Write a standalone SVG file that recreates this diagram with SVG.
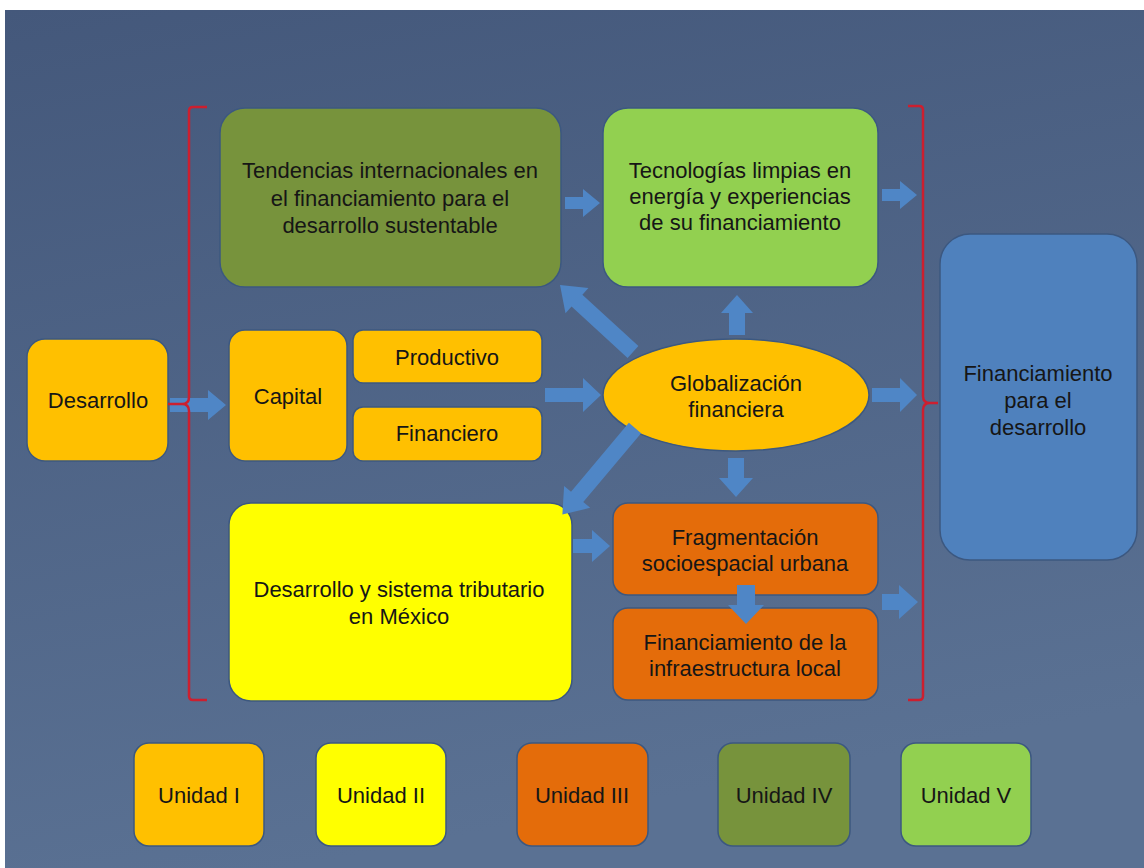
<svg xmlns="http://www.w3.org/2000/svg" width="1144" height="868" viewBox="0 0 1144 868">
  <defs>
    <linearGradient id="bg" x1="0" y1="0" x2="0.25" y2="1">
      <stop offset="0" stop-color="#44587b"/>
      <stop offset="1" stop-color="#5a7193"/>
    </linearGradient>
    <style>
      .t{font-family:"Liberation Sans",Arial,sans-serif;font-size:22px;fill:#161616;text-anchor:middle}
      .bx{stroke:#3c5880;stroke-width:1.5}
      .o1{fill:#FFC000}
      .y{fill:#FFFF00}
      .o2{fill:#E46C0A}
      .ol{fill:#77933C}
      .lg{fill:#92D050}
      .bl{fill:#4F81BD}
      .arr{fill:#4F86C6}
      .br{fill:none;stroke:#CC1F2F;stroke-width:2.5}
    </style>
  </defs>
  <rect x="0" y="0" width="1144" height="868" fill="#ffffff"/>
  <rect x="5" y="10" width="1139" height="858" fill="url(#bg)"/>

  <g id="desarrollo">
    <rect class="bx o1" x="27" y="339" width="141" height="122" rx="18"/>
    <text class="t" x="98" y="408">Desarrollo</text>
  </g>
  <g id="tendencias">
    <rect class="bx ol" x="220" y="108" width="341" height="179" rx="25"/>
    <text class="t" x="390" y="178">Tendencias internacionales en</text>
    <text class="t" x="390" y="206">el financiamiento para el</text>
    <text class="t" x="390" y="233">desarrollo sustentable</text>
  </g>
  <g id="tecnologias">
    <rect class="bx lg" x="603" y="108" width="275" height="179" rx="25"/>
    <text class="t" x="740" y="178">Tecnologías limpias en</text>
    <text class="t" x="740" y="204">energía y experiencias</text>
    <text class="t" x="740" y="230">de su financiamiento</text>
  </g>
  <g id="capital">
    <rect class="bx o1" x="229" y="330" width="118" height="131" rx="16"/>
    <text class="t" x="288" y="404">Capital</text>
  </g>
  <g id="productivo">
    <rect class="bx o1" x="353" y="330" width="189" height="53" rx="10"/>
    <text class="t" x="447" y="365">Productivo</text>
  </g>
  <g id="financiero">
    <rect class="bx o1" x="353" y="407" width="189" height="54" rx="10"/>
    <text class="t" x="447" y="441">Financiero</text>
  </g>
  <g id="globalizacion">
    <ellipse class="bx o1" cx="736" cy="395" rx="133" ry="56"/>
    <text class="t" x="736" y="391">Globalización</text>
    <text class="t" x="736" y="417">financiera</text>
  </g>
  <g id="tributario">
    <rect class="bx y" x="229" y="503" width="343" height="198" rx="22"/>
    <text class="t" x="399" y="597">Desarrollo y sistema tributario</text>
    <text class="t" x="399" y="624">en México</text>
  </g>
  <g id="fragmentacion">
    <rect class="bx o2" x="613" y="503" width="265" height="92" rx="15"/>
    <text class="t" x="745" y="545">Fragmentación</text>
    <text class="t" x="745" y="571">socioespacial urbana</text>
  </g>
  <g id="infraestructura">
    <rect class="bx o2" x="613" y="608" width="265" height="92" rx="15"/>
    <text class="t" x="745" y="650">Financiamiento de la</text>
    <text class="t" x="745" y="676">infraestructura local</text>
  </g>
  <g id="financiamiento-desarrollo">
    <rect class="bx bl" x="940" y="234" width="197" height="326" rx="30"/>
    <text class="t" x="1038" y="381">Financiamiento</text>
    <text class="t" x="1038" y="408">para el</text>
    <text class="t" x="1038" y="435">desarrollo</text>
  </g>

  <g id="unidad-1">
    <rect class="bx o1" x="134" y="743" width="130" height="103" rx="15"/>
    <text class="t" x="199" y="803">Unidad I</text>
  </g>
  <g id="unidad-2">
    <rect class="bx y" x="316" y="743" width="130" height="103" rx="15"/>
    <text class="t" x="381" y="803">Unidad II</text>
  </g>
  <g id="unidad-3">
    <rect class="bx o2" x="517" y="743" width="131" height="103" rx="15"/>
    <text class="t" x="582" y="803">Unidad III</text>
  </g>
  <g id="unidad-4">
    <rect class="bx ol" x="718" y="743" width="132" height="103" rx="15"/>
    <text class="t" x="784" y="803">Unidad IV</text>
  </g>
  <g id="unidad-5">
    <rect class="bx lg" x="901" y="743" width="130" height="103" rx="15"/>
    <text class="t" x="966" y="803">Unidad V</text>
  </g>

  <g id="connectors">
    <!-- Desarrollo -> Capital -->
    <path class="arr" d="M170,398 L208,398 L208,390 L226,405 L208,420 L208,412 L170,412 Z"/>
    <!-- Tendencias -> Tecnologias -->
    <path class="arr" d="M565,197 L583,197 L583,189 L600,203 L583,217 L583,209 L565,209 Z"/>
    <!-- Tecnologias -> right -->
    <path class="arr" d="M882,189 L900,189 L900,181 L917,195 L900,209 L900,201 L882,201 Z"/>
    <!-- Productivo/Financiero -> Globalizacion -->
    <path class="arr" d="M545,388 L583,388 L583,378 L601,395 L583,412 L583,402 L545,402 Z"/>
    <!-- Globalizacion -> right -->
    <path class="arr" d="M872,388 L900,388 L900,378 L917,395 L900,412 L900,402 L872,402 Z"/>
    <!-- Tributario -> Fragmentacion -->
    <path class="arr" d="M573,539 L592,539 L592,530 L610,546 L592,562 L592,553 L573,553 Z"/>
    <!-- Fragmentacion/Infra -> right -->
    <path class="arr" d="M882,594 L899,594 L899,585 L918,602 L899,619 L899,610 L882,610 Z"/>
    <!-- Globalizacion -> Tecnologias (up) -->
    <path class="arr" d="M729,335 L729,313 L721,313 L737,295 L753,313 L745,313 L745,335 Z"/>
    <!-- Globalizacion -> Fragmentacion (down) -->
    <path class="arr" d="M728,458 L728,478 L719,478 L736,497 L753,478 L744,478 L744,458 Z"/>
    <!-- Fragmentacion -> Infraestructura (down) -->
    <path class="arr" d="M737,585 L737,605 L728,605 L746,624 L764,605 L755,605 L755,585 Z"/>
    <!-- Globalizacion -> Tendencias (diagonal) -->
    <path class="arr" transform="translate(633,352) rotate(222.5)" d="M0,-8 L76,-8 L76,-17 L99,0 L76,17 L76,8 L0,8 Z"/>
    <!-- Globalizacion -> Tributario (diagonal) -->
    <path class="arr" transform="translate(635,428) rotate(130)" d="M0,-8 L90,-8 L90,-17 L113,0 L90,17 L90,8 L0,8 Z"/>
  </g>

  <g id="brackets">
    <path class="br" d="M207,107 L193,107 Q189,107 189,111 L189,397 Q189,404 182,404 L168,404 M182,404 Q189,404 189,411 L189,696 Q189,700 193,700 L207,700"/>
    <path class="br" d="M908,106 L919,106 Q923,106 923,110 L923,396 Q923,403 930,403 L938,403 M930,403 Q923,403 923,410 L923,696 Q923,700 919,700 L908,700"/>
  </g>
</svg>
